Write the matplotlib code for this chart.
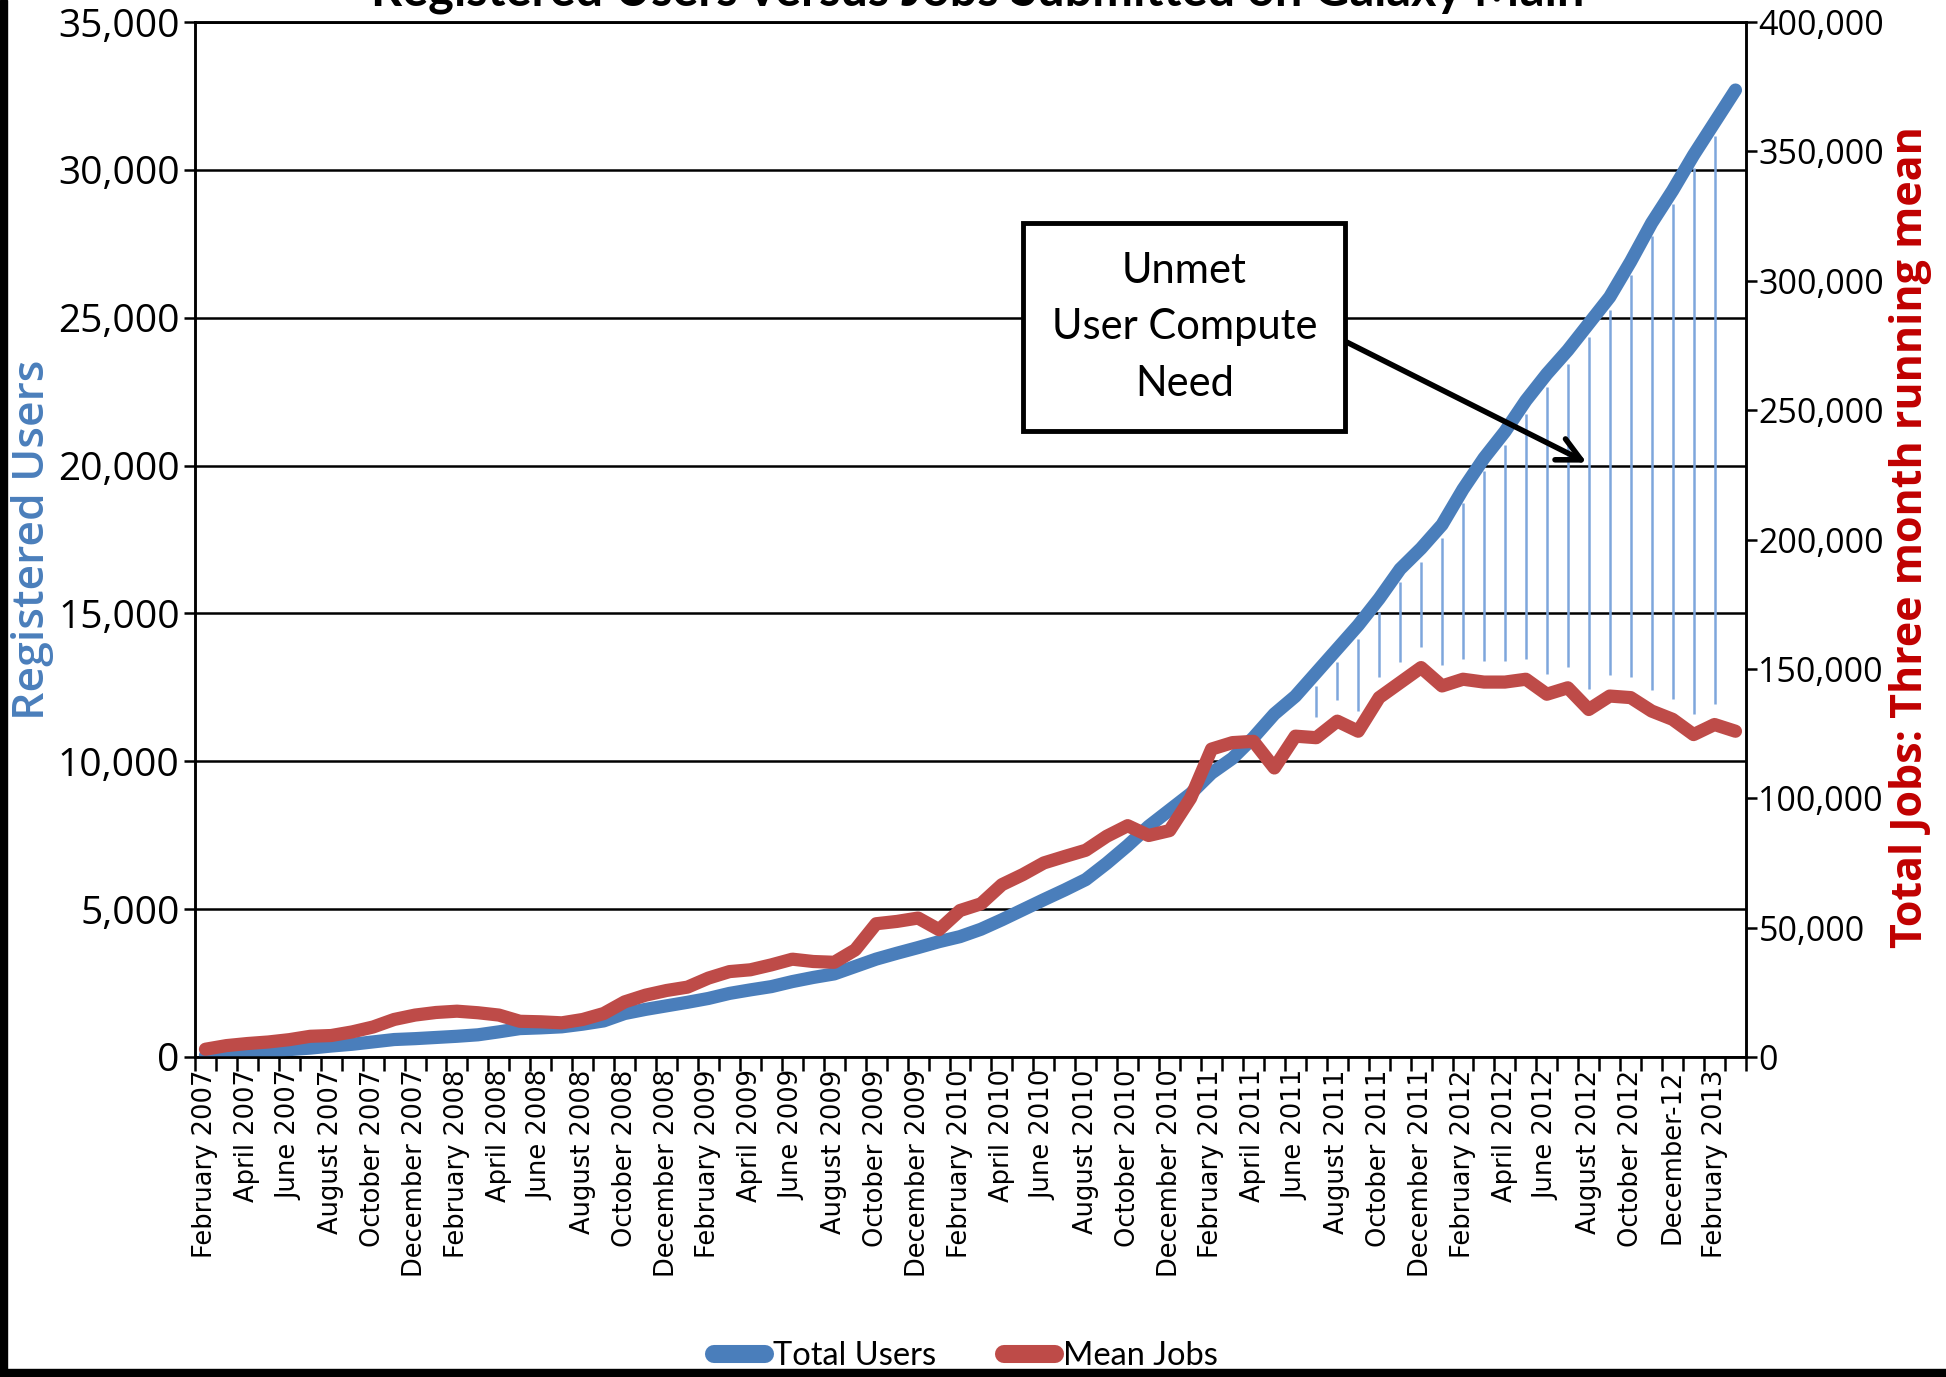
import numpy as np
import matplotlib
matplotlib.use("Agg")
import matplotlib.pyplot as plt
from matplotlib.lines import Line2D
from matplotlib.patches import Rectangle
from matplotlib.ticker import FuncFormatter

# monthly series, February 2007 .. March 2013
users = [50, 100, 140, 190, 250, 300, 370, 430, 510, 590, 620, 660,
         700, 750, 850, 960, 985, 1020, 1110, 1220, 1470, 1610, 1730, 1850,
         1980, 2150, 2270, 2380, 2550, 2690, 2810, 3060, 3310, 3510, 3700, 3900,
         4070, 4320, 4640, 4980, 5320, 5650, 6000, 6550, 7150, 7800, 8350, 8900,
         9600, 10100, 10800, 11600, 12200, 13000, 13800, 14600, 15500, 16500, 17200, 18000,
         19200, 20250, 21150, 22200, 23100, 23900, 24800, 25700, 26900, 28200, 29300, 30500,
         31600, 32700]

mean_jobs = [3000, 4400, 5200, 5800, 6700, 8000, 8300, 9700, 11600, 14500, 16200, 17200,
             17700, 17100, 16200, 13800, 13600, 13200, 14500, 16800, 21300, 23900, 25700, 27000,
             30500, 33000, 33700, 35600, 37800, 36900, 36600, 41400, 51500, 52400, 53700, 49200,
             56600, 59200, 66600, 70500, 75000, 77500, 79900, 85300, 89400, 85600, 87500, 100000,
             119000, 121500, 122000, 111700, 124000, 123400, 129800, 125900, 138900, 144700, 150500, 143400,
             146000, 144900, 144900, 146000, 140200, 142700, 134300, 139500, 138900, 133700, 130500, 124600,
             128500, 125900]

month_labels = ["February 2007", "April 2007", "June 2007", "August 2007", "October 2007", "December 2007",
                "February 2008", "April 2008", "June 2008", "August 2008", "October 2008", "December 2008",
                "February 2009", "April 2009", "June 2009", "August 2009", "October 2009", "December 2009",
                "February 2010", "April 2010", "June 2010", "August 2010", "October 2010", "December 2010",
                "February 2011", "April 2011", "June 2011", "August 2011", "October 2011", "December 2011",
                "February 2012", "April 2012", "June 2012", "August 2012", "October 2012", "December-12",
                "February 2013"]

BLUE = "#4a7ebb"
RED = "#be4b48"
HATCH = "#7ea6dc"

USERS_MAX = 35000
JOBS_MAX = 400000

fig = plt.figure(figsize=(19.46, 13.77), dpi=100)
ax = fig.add_axes([0.1002, 0.2324, 0.7970, 0.7516])
ax2 = ax.twinx()

x = np.arange(len(users))
users = np.array(users, dtype=float)
jobs = np.array(mean_jobs, dtype=float)

ax.plot(x, users, color=BLUE, lw=9.5, solid_capstyle="round", solid_joinstyle="round", zorder=3)
ax2.plot(x, jobs, color=RED, lw=9.5, solid_capstyle="round", solid_joinstyle="round", zorder=3)

# the gap between users and jobs, shaded with thin vertical strokes
jobs_as_users = jobs * USERS_MAX / JOBS_MAX
gap_idx = np.arange(53, 73)
ax.vlines(gap_idx, jobs_as_users[gap_idx] + 700, users[gap_idx] - 450,
          color=HATCH, lw=1.8, zorder=2)

ax.set_xlim(-0.5, len(users) - 0.5)
ax.set_ylim(0, USERS_MAX)
ax2.set_ylim(0, JOBS_MAX)

ax.set_yticks(np.arange(0, USERS_MAX + 1, 5000))
ax2.set_yticks(np.arange(0, JOBS_MAX + 1, 50000))
fmt = FuncFormatter(lambda v, p: f"{int(v):,}")
ax.yaxis.set_major_formatter(fmt)
ax2.yaxis.set_major_formatter(fmt)

ax.set_xticks(np.arange(0, len(users), 2))
ax.set_xticklabels(month_labels, rotation=90, fontsize=18.5, family="DejaVu Sans")
ax.set_xticks(np.arange(-0.5, len(users), 1), minor=True)
ax.tick_params(axis="x", which="major", length=0, pad=9)
ax.tick_params(axis="x", which="minor", length=10, width=1.8, direction="out")
ax2.tick_params(axis="x", which="both", length=0)

ax.tick_params(axis="y", length=8, width=1.8, direction="out", labelsize=28, pad=3)
ax2.tick_params(axis="y", length=8, width=1.8, direction="out", labelsize=24.5, pad=1)
for lab in ax.get_yticklabels() + ax2.get_yticklabels():
    lab.set_family("Open Sans")

ax.yaxis.grid(True, color="black", lw=1.8)
ax.set_axisbelow(True)
for a in (ax, ax2):
    for s in a.spines.values():
        s.set_linewidth(1.8)
        s.set_color("black")

fig.text(33 / 1946, 1 - 540 / 1377, "Registered Users", rotation=90, ha="center", va="center",
         color=BLUE, fontsize=32, family="Open Sans", fontweight="semibold")
fig.text(1910 / 1946, 1 - 537 / 1377, "Total Jobs: Three month running mean", rotation=90,
         ha="center", va="center", color="#c00000", fontsize=31, family="Open Sans", fontweight="bold")

fig.text(0.5026, 1 - 6 / 1377, "Registered Users versus Jobs Submitted on Galaxy Main",
         ha="center", va="baseline", fontsize=35, family="Lato", fontweight="bold")

ax.annotate("Unmet\nUser Compute\nNeed", xy=(65.9, 20100), xytext=(46.7, 24680),
            ha="center", va="center", fontsize=30, family="Lato", linespacing=1.6,
            bbox=dict(boxstyle="square,pad=0.68", fc="white", ec="black", lw=3.5),
            arrowprops=dict(arrowstyle="->", lw=4, color="black", mutation_scale=42,
                            shrinkA=0, shrinkB=0, relpos=(1, 0.5)),
            zorder=5)

handles = [Line2D([], [], color=BLUE, lw=13, solid_capstyle="round"),
           Line2D([], [], color=RED, lw=13, solid_capstyle="round")]
leg = fig.legend(handles, ["Total Users", "Mean Jobs"], loc="center", ncol=2,
                 bbox_to_anchor=(966 / 1946, 1 - 1356 / 1377), frameon=False,
                 prop={"family": "Lato", "size": 23.5}, handlelength=1.55,
                 handletextpad=0.25, columnspacing=2.1)

# dark frame edges along the left and bottom
fig.patches.append(Rectangle((0, 0), 7 / 1946, 1, transform=fig.transFigure,
                             color="black", zorder=10))
fig.patches.append(Rectangle((0, 0), 1, 8 / 1377, transform=fig.transFigure,
                             color="black", zorder=10))

fig.savefig("out.png", dpi=100)
